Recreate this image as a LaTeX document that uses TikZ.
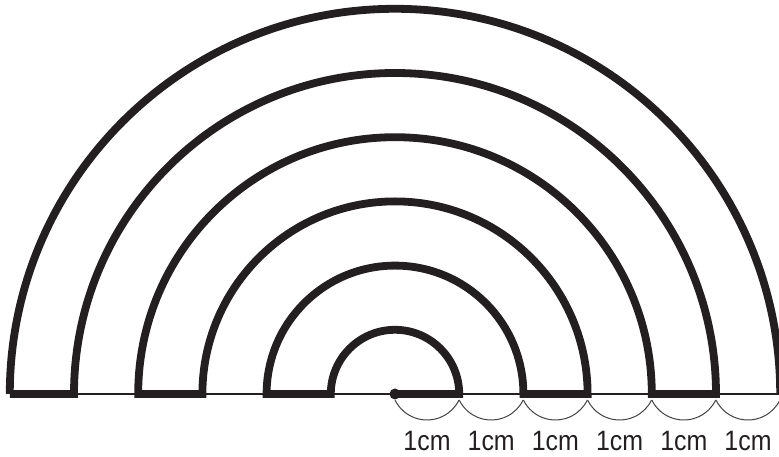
\documentclass[tikz,border=0pt]{standalone}
\usepackage{fontspec}
\setmainfont{Liberation Sans}
\definecolor{ink}{HTML}{231F20}
\begin{document}
\begin{tikzpicture}[x=1pt,y=1pt,
  band/.style={draw=ink,line width=7.8pt,line join=miter},
  baseline/.style={draw=ink,line width=1.3pt},
  scallop/.style={draw=ink!85,line width=1pt},
  lbl/.style={font=\fontsize{28}{30}\selectfont,text=ink,xscale=0.89,inner sep=0pt}]
\def\u{64.2}
\useasboundingbox (-395,-63) rectangle (384,394);
\clip (-395,-63) rectangle (384,394);
\coordinate (O) at (0,0);
% thin base line
\draw[baseline] (-6*\u,0) -- (6*\u,0);
% outer arc
\draw[band] (-6*\u,0) arc[start angle=180,end angle=0,radius=6*\u];
% zigzag bands
\draw[band] (-6*\u,0) -- (-5*\u,0) arc[start angle=180,end angle=0,radius=5*\u]
  -- (4*\u,0) arc[start angle=0,end angle=180,radius=4*\u]
  -- (-3*\u,0) arc[start angle=180,end angle=0,radius=3*\u]
  -- (2*\u,0) arc[start angle=0,end angle=180,radius=2*\u]
  -- (-1*\u,0) arc[start angle=180,end angle=0,radius=1*\u]
  -- (O);
\fill[ink] (O) circle[radius=5.5pt];
% scallops and labels
\foreach \k in {0,...,5}{
  \draw[scallop] (\k*\u,-6) arc[start angle=206,end angle=334,radius=35.6];
  \node[lbl] (l\k) at (\k*\u+32,-47.5) {1cm};
}
\end{tikzpicture}
\end{document}
